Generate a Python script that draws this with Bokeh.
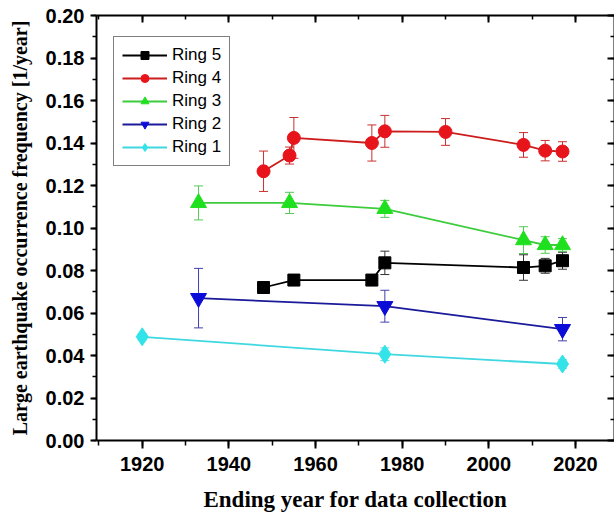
from bokeh.plotting import figure
from bokeh.models import (ColumnDataSource, Whisker, LinearAxis, Range1d,
                          SingleIntervalTicker, TeeHead, NumeralTickFormatter,
                          CustomJSTickFormatter)
from bokeh.embed import file_html
from bokeh.resources import INLINE

# ---- data ----
ring5_years = [1948, 1955, 1973, 1976, 2008, 2013, 2017]
ring5_vals = [0.0720, 0.0755, 0.0755, 0.0836, 0.0814, 0.0822, 0.0846]
ring5_errs = [0.0015, 0.0015, 0.0015, 0.0055, 0.0060, 0.0035, 0.0040]

ring4_years = [1948, 1954, 1955, 1973, 1976, 1990, 2008, 2013, 2017]
ring4_vals = [0.1267, 0.1341, 0.1424, 0.1400, 0.1455, 0.1452, 0.1391, 0.1364, 0.1360]
ring4_errs = [0.0095, 0.0040, 0.0096, 0.0085, 0.0075, 0.0063, 0.0058, 0.0048, 0.0046]

ring3_years = [1933, 1954, 1976, 2008, 2013, 2017]
ring3_vals = [0.1118, 0.1118, 0.1090, 0.0943, 0.0920, 0.0920]
ring3_errs = [0.0080, 0.0050, 0.0040, 0.0063, 0.0039, 0.0030]

ring2_years = [1933, 1976, 2017]
ring2_vals = [0.0670, 0.0632, 0.0524]
ring2_errs = [0.0140, 0.0075, 0.0055]

ring1_years = [1920, 1976, 2017]
ring1_vals = [0.0488, 0.0406, 0.0360]
ring1_errs = [0.0015, 0.0030, 0.0020]

x_ticks_step = 20
y_ticks_step = 0.02

p = figure(width=614, height=524, output_backend="svg", toolbar_location=None,
           x_range=Range1d(1909.45, 2029.0), y_range=Range1d(0, 0.2),
           min_border_left=96, min_border_top=15, min_border_right=0,
           min_border_bottom=84)
p.outline_line_color = None
p.xgrid.visible = False
p.ygrid.visible = False
p.background_fill_color = "white"
p.border_fill_color = "white"

xt = SingleIntervalTicker(interval=x_ticks_step, num_minor_ticks=2)
yt = SingleIntervalTicker(interval=y_ticks_step, num_minor_ticks=2)

xa = p.xaxis[0]
xa.ticker = xt
xa.axis_label = "Ending year for data collection"
ya = p.yaxis[0]
ya.ticker = yt
ya.formatter = NumeralTickFormatter(format="0.00")
ya.axis_label = "Large earthquake occurrence frequency [1/year]"

for ax in (xa, ya):
    ax.axis_line_width = 2
    ax.axis_line_color = "black"
    ax.major_tick_line_width = 2
    ax.minor_tick_line_width = 1.5
    ax.major_tick_in = 0
    ax.minor_tick_in = 0
    ax.major_label_text_font = "Liberation Sans"
    ax.major_label_text_font_style = "bold"
    ax.major_label_text_font_size = "20px"
    ax.major_label_text_color = "black"
    ax.axis_label_text_font = "Liberation Serif"
    ax.axis_label_text_font_style = "bold"
    ax.axis_label_text_color = "black"

xa.axis_label_text_font_size = "23px"
ya.axis_label_text_font_size = "20px"
xa.major_tick_out = 8
xa.minor_tick_out = 5
xa.major_label_standoff = 8
xa.axis_label_standoff = 13
ya.major_tick_out = 6
ya.minor_tick_out = 4
ya.major_label_standoff = 6
ya.axis_label_standoff = 12

blank = CustomJSTickFormatter(code="return '';")
top = LinearAxis(ticker=SingleIntervalTicker(interval=x_ticks_step, num_minor_ticks=2),
                 formatter=blank)
right = LinearAxis(ticker=SingleIntervalTicker(interval=y_ticks_step, num_minor_ticks=2),
                   formatter=CustomJSTickFormatter(code="return '';"))
for ax in (top, right):
    ax.axis_line_width = 2
    ax.major_tick_line_width = 2
    ax.minor_tick_line_width = 1.5
    ax.major_tick_out = 0
    ax.minor_tick_out = 0
    ax.major_tick_in = 7
    ax.minor_tick_in = 4
    ax.major_label_text_font_size = "10px"
    ax.major_label_standoff = 0
p.add_layout(top, "above")
p.add_layout(right, "right")


def add_series(years, vals, errs, marker_color, line_color, err_color, marker, size, label):
    src = ColumnDataSource(dict(
        x=years, y=vals,
        lo=[v - e for v, e in zip(vals, errs)],
        hi=[v + e for v, e in zip(vals, errs)]))
    w = Whisker(source=src, base="x", upper="hi", lower="lo",
                line_color=err_color, line_width=1,
                upper_head=TeeHead(size=9, line_color=err_color, line_width=1),
                lower_head=TeeHead(size=9, line_color=err_color, line_width=1))
    p.add_layout(w)
    p.line("x", "y", source=src, line_color=line_color, line_width=1.8, legend_label=label)
    p.scatter("x", "y", source=src, marker=marker, size=size,
              fill_color=marker_color, line_color=marker_color, legend_label=label)


add_series(ring5_years, ring5_vals, ring5_errs, "#000000", "#000000", "#333333", "square", 12, "Ring 5")
add_series(ring4_years, ring4_vals, ring4_errs, "#e8141c", "#cc1c1c", "#c83030", "circle", 13, "Ring 4")
add_series(ring3_years, ring3_vals, ring3_errs, "#1fe01f", "#3ccc3c", "#55c855", "triangle", 16, "Ring 3")
add_series(ring2_years, ring2_vals, ring2_errs, "#0c0cd8", "#1a1a9a", "#4040b0", "inverted_triangle", 16, "Ring 2")
add_series(ring1_years, ring1_vals, ring1_errs, "#33e3ea", "#3fd8e0", "#60d8e0", "diamond", 18, "Ring 1")

lg = p.legend[0]
lg.location = (17, 274)
lg.border_line_color = "black"
lg.border_line_width = 1.5
lg.background_fill_color = "white"
lg.background_fill_alpha = 1
lg.label_text_font = "Liberation Sans"
lg.label_text_font_size = "17px"
lg.label_text_color = "black"
lg.glyph_width = 45
lg.glyph_height = 20
lg.label_height = 20
lg.label_standoff = 5
lg.spacing = 3
lg.padding = 8
lg.margin = 0

open("out.html", "w").write(file_html(p, INLINE))
